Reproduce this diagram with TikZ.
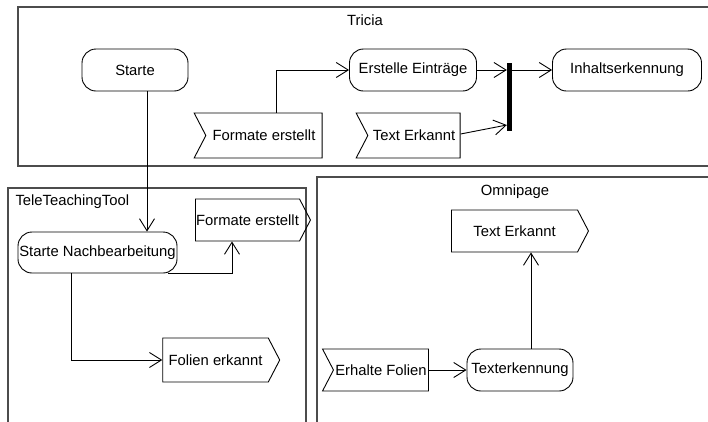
\documentclass[tikz,border=0pt]{standalone}
\usepackage{fontspec}
\setmainfont{Liberation Sans}
\usetikzlibrary{arrows.meta,shapes.symbols}

\tikzset{
  aktion/.style={draw,rounded corners=14pt,line width=0.9pt,minimum height=42pt,inner sep=0pt},
  sendsig/.style={draw,shape=signal,signal to=east,signal pointer angle=125,line width=0.9pt,minimum height=42pt,inner sep=0pt},
  empfsig/.style={draw,shape=signal,signal to=nowhere,signal from=west,signal pointer angle=125,line width=0.9pt,minimum height=45pt,inner sep=0pt},
  pfeil/.style={-{Straight Barb[length=12pt,width=15pt]},line width=0.9pt},
  rahmen/.style={draw=black!70,line width=1.4pt}
}

\begin{document}
\begin{tikzpicture}[x=1pt,y=-1pt,font=\fontsize{14.8}{17}\selectfont]
    \useasboundingbox (0,0) rectangle (708,421);
    \clip (0,0) rectangle (708,421);
    % Bereiche
    \draw[rahmen] (18,7) rectangle (730,166);
    \draw[rahmen] (8,188) rectangle (306,440);
    \draw[rahmen] (317,177) rectangle (730,440);
    \node (tricia) at (365,20) {Tricia};
    \node[anchor=west] (ttt) at (12,202) {TeleTeachingTool};
    \node (omni) at (515,192) {Omnipage};
    % Tricia
    \node[aktion,minimum width=106pt] (starte) at (135,70) {Starte};
    \node[aktion,minimum width=127pt] (erstelle) at (413,70) {Erstelle Einträge};
    \node[aktion,minimum width=149pt] (inhalt) at (627,70) {Inhaltserkennung};
    \node[fill=black,minimum width=5pt,minimum height=68pt,inner sep=0pt] (balken) at (509.5,97) {};
    \node[empfsig,minimum width=128pt] (formate1) at (264,135.5) {Formate erstellt};
    \node[empfsig,minimum width=104pt] (text1) at (414,135.5) {Text Erkannt};
    % TeleTeachingTool
    \node[aktion,minimum width=159pt,minimum height=41pt] (nachb) at (97.5,252.5) {Starte Nachbearbeitung};
    \node[sendsig,minimum width=115pt] (formate2) at (247.5,220) {Formate erstellt};
    \node[sendsig,minimum width=117pt,minimum height=44pt] (folien) at (215.5,360) {Folien erkannt};
    % Omnipage
    \node[sendsig,minimum width=137pt] (text2) at (514.5,231) {Text Erkannt};
    \node[aktion,minimum width=106pt] (texterk) at (520,370) {Texterkennung};
    \node[empfsig,minimum width=106pt,minimum height=42pt] (erhalte) at (381,370) {Erhalte Folien};

    \draw[pfeil] ([xshift=12pt]starte.south) -- ([xshift=12pt]starte.south |- nachb.north);
    \draw[pfeil] ([xshift=12pt]formate1.north) |- (erstelle.west);
    \draw[pfeil] (erstelle.east) -- (erstelle.east -| balken.west);
    \draw[pfeil] (balken.east |- inhalt.west) -- (inhalt.west);
    \draw[pfeil] ([yshift=1.5pt]text1.east) -- ([yshift=-28pt]balken.west);
    \draw[pfeil] ([xshift=-9pt]nachb.south east) -| ([xshift=-15.5pt]formate2.south);
    \draw[pfeil] ([xshift=-26.5pt]nachb.south) |- (folien.west);
    \draw[pfeil] (erhalte.east) -- (texterk.west);
    \draw[pfeil] ([xshift=11pt]texterk.north) -- ([xshift=11pt]texterk.north |- text2.south);
\end{tikzpicture}
\end{document}
